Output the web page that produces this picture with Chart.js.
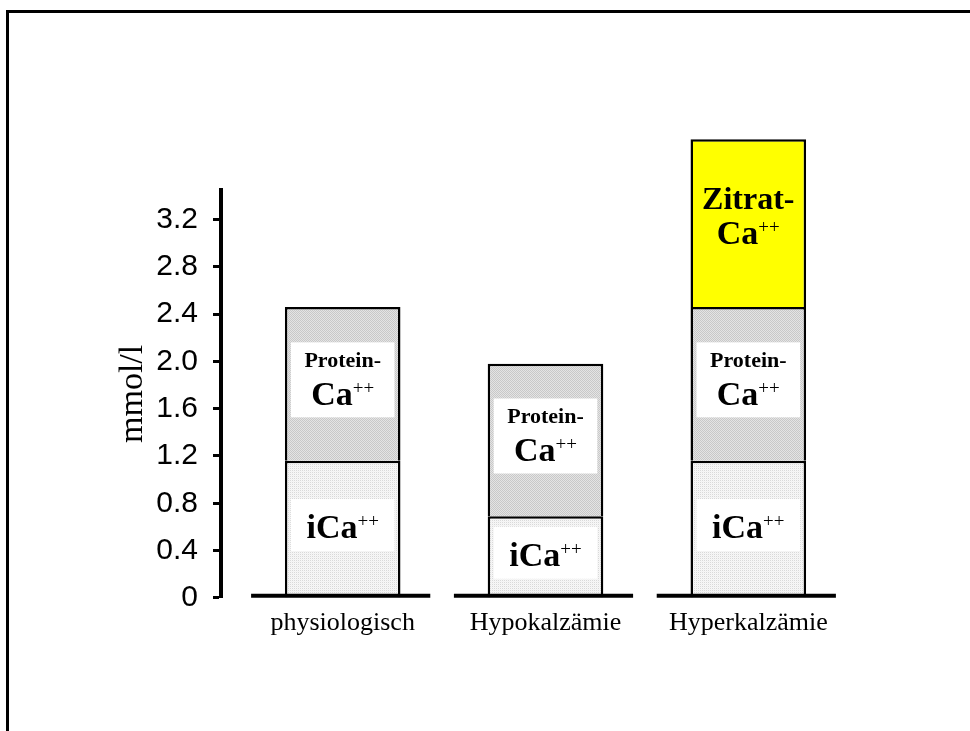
<!DOCTYPE html>
<html>
<head>
<meta charset="utf-8">
<script src="https://cdn.jsdelivr.net/npm/chart.js@4/dist/chart.umd.min.js"></script>
<style>
  html, body { margin: 0; padding: 0; background: #fff; overflow: hidden; }
  #wrap { position: relative; width: 970px; height: 731px; }
  #frame { position: absolute; left: 6px; top: 10px; width: 990px; height: 760px; border: 3px solid #000; box-sizing: border-box; }
  #chart { position: absolute; left: 0; top: 0; }
</style>
</head>
<body>
<div id="wrap">
  <div id="frame"></div>
  <canvas id="chart" width="970" height="731"></canvas>
</div>
<script>
// 1. Daten
const categories = ['physiologisch', 'Hypokalzämie', 'Hyperkalzämie'];
const iCaValues = [1.16, 0.69, 1.16];
const proteinValues = [1.30, 1.29, 1.30];
const zitratValues = [0, 0, 1.42];
const yTicks = [0, 0.4, 0.8, 1.2, 1.6, 2.0, 2.4, 2.8, 3.2];
const yAxisTop = 3.45;

// Beschriftung in den Segmenten: [Text, Hochgestellt]
const iCaLabel = [['iCa', '++']];
const proteinLabel = [['Protein-', ''], ['Ca', '++']];
const zitratLabel = [['Zitrat-', ''], ['Ca', '++']];

const serif = "'Liberation Serif', 'Times New Roman', serif";
const sans = "'Liberation Sans', Arial, sans-serif";

// 2. Rastermuster fuer die Balken
function makePattern(c1, c2, c3, c4) {
    const p = document.createElement('canvas');
    p.width = 2; p.height = 2;
    const g = p.getContext('2d');
    g.fillStyle = c1; g.fillRect(0, 0, 1, 1);
    g.fillStyle = c2; g.fillRect(1, 0, 1, 1);
    g.fillStyle = c3; g.fillRect(0, 1, 1, 1);
    g.fillStyle = c4; g.fillRect(1, 1, 1, 1);
    return g.createPattern(p, 'repeat');
}
const ctx = document.getElementById('chart').getContext('2d');
const iCaFill = makePattern('#d9d9d9', '#f7f7f7', '#f7f7f7', '#f2f2f2');
const proteinFill = makePattern('#c8c8c8', '#e4e4e4', '#e4e4e4', '#c8c8c8');

function toPoints(values) {
    return values.map((v, i) => ({ x: i, y: v }));
}

// 3. Plugin: Grundlinien, weisse Kaesten und Texte
const segmentText = {
    id: 'segmentText',
    afterDatasetsDraw(chart) {
        const c = chart.ctx;
        const xs = chart.scales.x;
        const ys = chart.scales.y;
        const y0 = ys.getPixelForValue(0);

        chart.data.datasets.forEach((ds, di) => {
            const meta = chart.getDatasetMeta(di);
            meta.data.forEach((bar, i) => {
                if (!ds.data[i].y) return;
                const top = Math.min(bar.y, bar.base);
                const bottom = Math.max(bar.y, bar.base);
                const mid = (top + bottom) / 2;
                const lines = ds.segmentLabel;

                c.save();
                if (ds.whiteBox) {
                    const bw = bar.width - 12;
                    const bh = lines.length > 1 ? 75 : 52;
                    c.fillStyle = '#fff';
                    c.fillRect(bar.x - bw / 2, mid - 4 - bh / 2, bw, bh);
                }
                c.fillStyle = '#000';
                c.textBaseline = 'alphabetic';
                lines.forEach((ln, li) => {
                    let size = 34;
                    let baseY;
                    if (lines.length > 1 && li === 0) {
                        size = ln[0] === 'Protein-' ? 22 : 32;
                        baseY = mid - 25 + size * 0.35;
                    } else if (lines.length > 1) {
                        baseY = mid + 21;
                    } else {
                        baseY = mid + 9;
                    }
                    c.font = 'bold ' + size + 'px ' + serif;
                    const w1 = c.measureText(ln[0]).width;
                    c.font = '19px ' + serif;
                    const w2 = ln[1] ? c.measureText(ln[1]).width : 0;
                    const startX = bar.x - (w1 + w2) / 2;
                    c.font = 'bold ' + size + 'px ' + serif;
                    c.textAlign = 'left';
                    c.fillText(ln[0], startX, baseY);
                    if (ln[1]) {
                        c.font = '19px ' + serif;
                        c.fillText(ln[1], startX + w1, baseY - 11);
                    }
                });
                c.restore();
            });
        });

        // dicke Grundlinie unter jedem Balken
        const meta0 = chart.getDatasetMeta(0);
        c.save();
        c.strokeStyle = '#000';
        c.lineWidth = 4;
        categories.forEach((cat, i) => {
            const x = xs.getPixelForValue(i);
            const half = meta0.data[i].width * 0.775;
            c.beginPath();
            c.moveTo(x - half - 2, y0 - 2);
            c.lineTo(x + half - 2, y0 - 2);
            c.stroke();
        });
        c.restore();
    }
};

// 4. Diagramm
new Chart(ctx, {
    type: 'bar',
    data: {
        datasets: [
            { label: 'iCa', data: toPoints(iCaValues), backgroundColor: iCaFill, segmentLabel: iCaLabel, whiteBox: true },
            { label: 'Protein-Ca', data: toPoints(proteinValues), backgroundColor: proteinFill, segmentLabel: proteinLabel, whiteBox: true },
            { label: 'Zitrat-Ca', data: toPoints(zitratValues), backgroundColor: '#ffff00', segmentLabel: zitratLabel, whiteBox: false }
        ].map(ds => Object.assign(ds, {
            borderColor: '#000',
            borderWidth: 2.5,
            borderSkipped: 'start',
            categoryPercentage: 1,
            barPercentage: 0.57,
            clip: false
        }))
    },
    options: {
        responsive: false,
        animation: false,
        layout: { padding: { left: 116, right: 100, top: 190, bottom: 82 } },
        plugins: { legend: { display: false }, tooltip: { enabled: false } },
        scales: {
            x: {
                type: 'linear',
                stacked: true,
                offset: false,
                min: -0.6,
                max: 2.6,
                afterBuildTicks: (s) => { s.ticks = categories.map((c, i) => ({ value: i })); },
                grid: { display: false, drawTicks: false, offset: false },
                border: { display: false },
                ticks: {
                    padding: 10,
                    maxRotation: 0,
                    autoSkip: false,
                    color: '#000',
                    font: { family: serif, size: 26 },
                    callback: (v) => categories[v]
                }
            },
            y: {
                stacked: true,
                min: 0,
                max: yAxisTop,
                afterBuildTicks: (s) => { s.ticks = yTicks.map(v => ({ value: v })); },
                afterFit: (s) => { s.width = 105; },
                grid: { drawOnChartArea: false, drawTicks: true, tickLength: 8, tickWidth: 3, tickColor: '#000' },
                border: { display: true, color: '#000', width: 4 },
                ticks: {
                    padding: 15,
                    color: '#000',
                    font: { family: sans, size: 30 },
                    callback: (v) => v === 0 ? '0' : v.toFixed(1)
                },
                title: {
                    display: true,
                    text: 'mmol/l',
                    color: '#000',
                    padding: { top: 0, bottom: 6 },
                    font: { family: serif, size: 34, lineHeight: 1 }
                }
            }
        }
    },
    plugins: [segmentText]
});
</script>
</body>
</html>
